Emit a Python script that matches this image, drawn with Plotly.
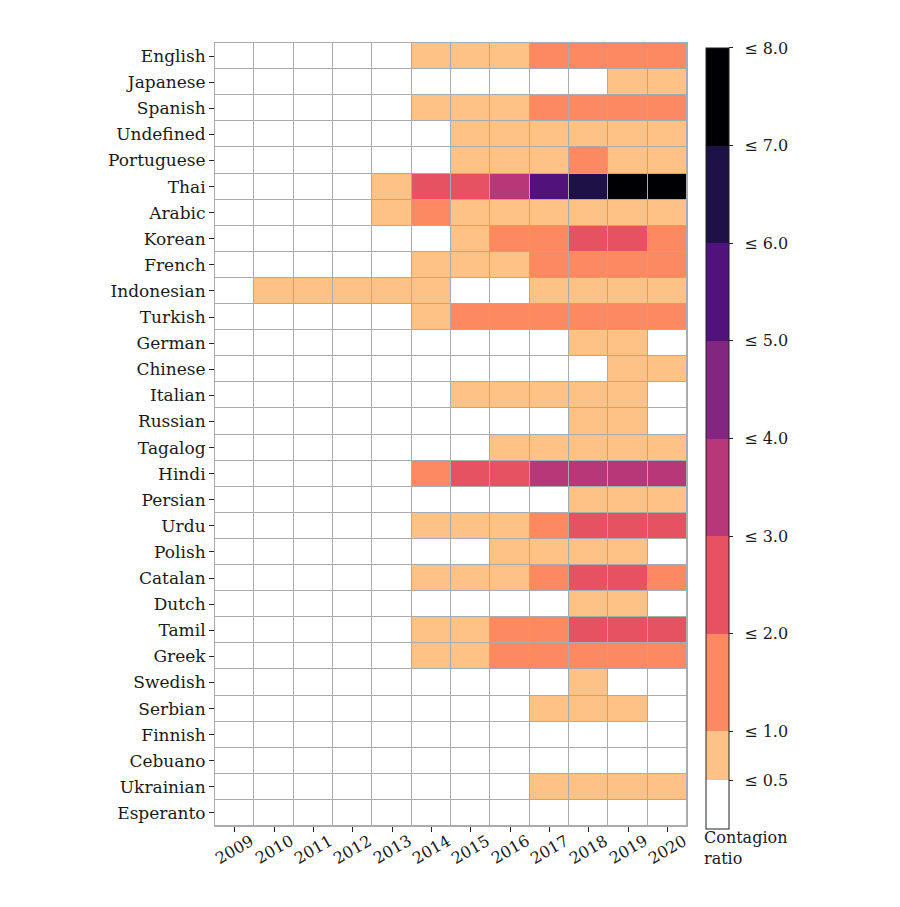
import plotly.graph_objects as go

years = [2009, 2010, 2011, 2012, 2013, 2014, 2015, 2016, 2017, 2018, 2019, 2020]
languages = ["English", "Japanese", "Spanish", "Undefined", "Portuguese", "Thai", "Arabic",
             "Korean", "French", "Indonesian", "Turkish", "German", "Chinese", "Italian",
             "Russian", "Tagalog", "Hindi", "Persian", "Urdu", "Polish", "Catalan", "Dutch",
             "Tamil", "Greek", "Swedish", "Serbian", "Finnish", "Cebuano", "Ukrainian", "Esperanto"]

# contagion ratio per language (rows) and year (columns)
english    = [0, 0, 0, 0, 0, 0.75, 0.75, 0.75, 1.5, 1.5, 1.5, 1.5]
japanese   = [0, 0, 0, 0, 0, 0, 0, 0, 0, 0, 0.75, 0.75]
spanish    = [0, 0, 0, 0, 0, 0.75, 0.75, 0.75, 1.5, 1.5, 1.5, 1.5]
undefined  = [0, 0, 0, 0, 0, 0, 0.75, 0.75, 0.75, 0.75, 0.75, 0.75]
portuguese = [0, 0, 0, 0, 0, 0, 0.75, 0.75, 0.75, 1.5, 0.75, 0.75]
thai       = [0, 0, 0, 0, 0.75, 2.5, 2.5, 3.5, 5.5, 6.5, 7.5, 7.5]
arabic     = [0, 0, 0, 0, 0.75, 1.5, 0.75, 0.75, 0.75, 0.75, 0.75, 0.75]
korean     = [0, 0, 0, 0, 0, 0, 0.75, 1.5, 1.5, 2.5, 2.5, 1.5]
french     = [0, 0, 0, 0, 0, 0.75, 0.75, 0.75, 1.5, 1.5, 1.5, 1.5]
indonesian = [0, 0.75, 0.75, 0.75, 0.75, 0.75, 0, 0, 0.75, 0.75, 0.75, 0.75]
turkish    = [0, 0, 0, 0, 0, 0.75, 1.5, 1.5, 1.5, 1.5, 1.5, 1.5]
german     = [0, 0, 0, 0, 0, 0, 0, 0, 0, 0.75, 0.75, 0]
chinese    = [0, 0, 0, 0, 0, 0, 0, 0, 0, 0, 0.75, 0.75]
italian    = [0, 0, 0, 0, 0, 0, 0.75, 0.75, 0.75, 0.75, 0.75, 0]
russian    = [0, 0, 0, 0, 0, 0, 0, 0, 0, 0.75, 0.75, 0]
tagalog    = [0, 0, 0, 0, 0, 0, 0, 0.75, 0.75, 0.75, 0.75, 0.75]
hindi      = [0, 0, 0, 0, 0, 1.5, 2.5, 2.5, 3.5, 3.5, 3.5, 3.5]
persian    = [0, 0, 0, 0, 0, 0, 0, 0, 0, 0.75, 0.75, 0.75]
urdu       = [0, 0, 0, 0, 0, 0.75, 0.75, 0.75, 1.5, 2.5, 2.5, 2.5]
polish     = [0, 0, 0, 0, 0, 0, 0, 0.75, 0.75, 0.75, 0.75, 0]
catalan    = [0, 0, 0, 0, 0, 0.75, 0.75, 0.75, 1.5, 2.5, 2.5, 1.5]
dutch      = [0, 0, 0, 0, 0, 0, 0, 0, 0, 0.75, 0.75, 0]
tamil      = [0, 0, 0, 0, 0, 0.75, 0.75, 1.5, 1.5, 2.5, 2.5, 2.5]
greek      = [0, 0, 0, 0, 0, 0.75, 0.75, 1.5, 1.5, 1.5, 1.5, 1.5]
swedish    = [0, 0, 0, 0, 0, 0, 0, 0, 0, 0.75, 0, 0]
serbian    = [0, 0, 0, 0, 0, 0, 0, 0, 0.75, 0.75, 0.75, 0]
finnish    = [0, 0, 0, 0, 0, 0, 0, 0, 0, 0, 0, 0]
cebuano    = [0, 0, 0, 0, 0, 0, 0, 0, 0, 0, 0, 0]
ukrainian  = [0, 0, 0, 0, 0, 0, 0, 0, 0.75, 0.75, 0.75, 0.75]
esperanto  = [0, 0, 0, 0, 0, 0, 0, 0, 0, 0, 0, 0]

z = [english, japanese, spanish, undefined, portuguese, thai, arabic, korean, french,
     indonesian, turkish, german, chinese, italian, russian, tagalog, hindi, persian, urdu,
     polish, catalan, dutch, tamil, greek, swedish, serbian, finnish, cebuano, ukrainian,
     esperanto]

bounds = [0, 0.5, 1, 2, 3, 4, 5, 6, 7, 8]
bin_colors = ["#ffffff", "#fec287", "#fc8961", "#e75263", "#b73779",
              "#832681", "#51127c", "#1d1147", "#000004"]
tick_vals = [0.5, 1, 2, 3, 4, 5, 6, 7, 8]
tick_text = ["≤ 0.5", "≤ 1.0", "≤ 2.0", "≤ 3.0", "≤ 4.0", "≤ 5.0", "≤ 6.0", "≤ 7.0", "≤ 8.0"]

zmax = bounds[-1]
colorscale = []
for i, c in enumerate(bin_colors):
    colorscale.append([bounds[i] / zmax, c])
    colorscale.append([bounds[i + 1] / zmax, c])

FONT = "DejaVu Serif"
TXT = "#1a1a1a"
GRID = "#ababab"

# page body has an 8px margin, so the figure is shrunk and shifted accordingly
W, H = 884, 891
ml, mt = 207, 35
plot_w, plot_h = 472.5, 783.5
mr = W - ml - plot_w
mb = H - mt - plot_h

fig = go.Figure(go.Heatmap(
    z=z, x=years, y=languages,
    zmin=0, zmax=zmax, colorscale=colorscale,
    xgap=1, ygap=1,
    colorbar=dict(
        thickness=23, outlinewidth=1, outlinecolor="#222222",
        x=1.0406, xanchor="left", xpad=0,
        y=(plot_h - 5) / plot_h, yanchor="top", ypad=0,
        len=781 / plot_h, lenmode="fraction",
        tickmode="array", tickvals=tick_vals,
        ticktext=["\u2002" + t for t in tick_text],
        ticks="outside", ticklen=4, tickcolor="#222222",
        tickfont=dict(family=FONT, size=16, color=TXT),
    ),
    hoverongaps=False,
))

annotations = [dict(text=str(yv), x=yv, y=-0.03, xref="x", yref="paper",
                    xanchor="center", yanchor="middle", textangle=-30, showarrow=False,
                    font=dict(family=FONT, size=16, color=TXT)) for yv in years]
annotations.append(dict(text="Contagion<br>ratio", x=1.031, y=0.0, xref="paper", yref="paper",
                        xanchor="left", yanchor="top", align="left", showarrow=False,
                        font=dict(family=FONT, size=16, color=TXT)))

fig.update_layout(
    width=W, height=H,
    margin=dict(l=ml, r=mr, t=mt, b=mb),
    paper_bgcolor="white", plot_bgcolor=GRID,
    font=dict(family=FONT, size=16, color=TXT),
    annotations=annotations,
)
fig.update_xaxes(
    tickmode="array", tickvals=years, showticklabels=False,
    ticks="outside", ticklen=5, tickcolor="#222222",
    showgrid=False, zeroline=False,
    showline=True, linecolor=GRID, linewidth=1, mirror=True,
    range=[years[0] - 0.5, years[-1] + 0.5],
)
fig.update_yaxes(
    autorange="reversed", ticks="outside", ticklen=5, tickcolor="#222222",
    tickfont=dict(family=FONT, size=17, color=TXT),
    showgrid=False, zeroline=False,
    showline=True, linecolor=GRID, linewidth=1, mirror=True,
)

fig.write_html("out.html")
